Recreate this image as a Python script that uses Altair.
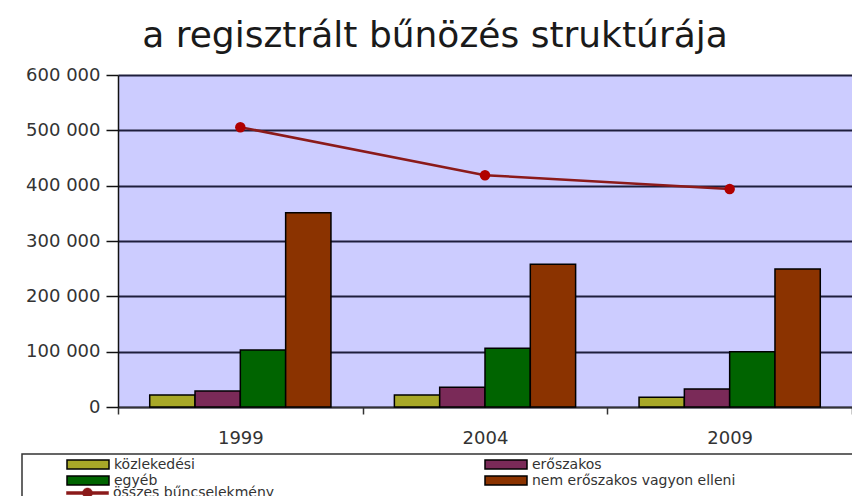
import altair as alt
import pandas as pd

years = ["1999", "2004", "2009"]
series = ["közlekedési", "erőszakos", "egyéb", "nem erőszakos vagyon elleni"]
kozlekedesi = [21700, 21700, 17500]
eroszakos = [29000, 35600, 32500]
egyeb = [103000, 106000, 100000]
vagyon = [351000, 258000, 249500]
line_name = "összes bűncselekmény"
osszes = [505700, 418900, 394000]
bar_colors = ["#A8A828", "#7A2A58", "#006400", "#8B3300"]
line_color = "#8B1A1A"
point_color = "#B00000"
y_ticks = [0, 100000, 200000, 300000, 400000, 500000, 600000]
# legend fills column by column: reorder so rows read as in the reference
legend_order = [series[0], series[2], series[1], series[3]]
legend_colors = [bar_colors[0], bar_colors[2], bar_colors[1], bar_colors[3]]

rows = []
for vals, name in zip([kozlekedesi, eroszakos, egyeb, vagyon], series):
    for yr, v in zip(years, vals):
        rows.append({"year": yr, "series": name, "value": v})
bars_df = pd.DataFrame(rows)
line_df = pd.DataFrame({"year": years, "value": osszes, "series": [line_name] * 3})

W, H = 734, 332
FONT = "DejaVu Sans"
RECT = "M-2.8,-0.6H2.8V0.6H-2.8Z"
LINE = "M-2.8,-0.2H2.8V0.2H-2.8Z M0.67,0A0.67,0.67,0,1,1,-0.67,0A0.67,0.67,0,1,1,0.67,0Z"

x_enc = alt.X("year:N", sort=years, title=None,
              scale=alt.Scale(paddingInner=0, paddingOuter=0),
              axis=alt.Axis(labelAngle=0, tickBand="extent", tickSize=7, tickColor="#333",
                            tickWidth=1.5, domainColor="#333", domainWidth=1.5,
                            labelFont=FONT, labelFontSize=18, labelColor="#333",
                            labelPadding=15, grid=False))
y_enc = alt.Y("value:Q", title=None,
              scale=alt.Scale(domain=[0, 600000], nice=False),
              axis=alt.Axis(values=y_ticks,
                            labelExpr="replace(format(datum.value, ',d'), ',', ' ')",
                            grid=True, gridColor="#1e1e3c", gridWidth=1.8, gridOpacity=1,
                            tickSize=12, tickColor="#111", tickWidth=1.5,
                            domainColor="#111", domainWidth=1.5,
                            labelFont=FONT, labelFontSize=18, labelColor="#333",
                            labelPadding=6))

bars = alt.Chart(bars_df).mark_bar(stroke="black", strokeWidth=1.5).encode(
    x=x_enc,
    xOffset=alt.XOffset("series:N", sort=series,
                        scale=alt.Scale(paddingInner=0, paddingOuter=0.7)),
    y=y_enc,
    fill=alt.Fill("series:N",
                  scale=alt.Scale(domain=legend_order, range=legend_colors),
                  legend=alt.Legend(title=None, orient="none", legendX=-38.5, legendY=381,
                                    columns=2, columnPadding=286, rowPadding=-1.5,
                                    labelFont=FONT, labelFontSize=14, labelColor="#333",
                                    labelLimit=400,
                                    symbolType=RECT, symbolSize=225,
                                    symbolStrokeColor="black", symbolStrokeWidth=1.5,
                                    symbolOpacity=1, labelOffset=17.5)),
)

line = alt.Chart(line_df).mark_line(strokeWidth=2.5).encode(
    x=alt.X("year:N", sort=years),
    y=alt.Y("value:Q"),
    stroke=alt.Stroke("series:N",
                      scale=alt.Scale(domain=[line_name], range=[line_color]),
                      legend=alt.Legend(title=None, orient="none", legendX=-38.5, legendY=410,
                                        labelFont=FONT, labelFontSize=14, labelColor="#333",
                                        labelLimit=400,
                                        symbolType=LINE, symbolSize=225,
                                        symbolFillColor=line_color, symbolStrokeWidth=0.5,
                                        symbolOpacity=1, labelOffset=17.5)),
)

points = alt.Chart(line_df).mark_circle(size=110, color=point_color, opacity=1).encode(
    x=alt.X("year:N", sort=years),
    y=alt.Y("value:Q"),
)

frame = alt.Chart(pd.DataFrame({"k": [0]})).mark_rect(
    fill="transparent", stroke="#333", strokeWidth=1.5
).encode(
    x=alt.value(-96), x2=alt.value(W + 40),
    y=alt.value(379), y2=alt.value(H + 160),
)

chart = alt.layer(bars, line, points, frame).resolve_scale(
    fill="independent", stroke="independent"
).properties(
    width=W, height=H,
    title=alt.Title("a regisztrált bűnözés struktúrája", fontSize=36, font=FONT,
                    fontWeight="normal", color="#1a1a1a", anchor="middle", dx=-50,
                    offset=11),
    autosize=alt.AutoSizeParams(type="none"),
    padding={"left": 110, "top": 67, "right": 0, "bottom": 89},
).configure_view(fill="#CCCCFF", stroke="transparent")

chart.save("out.html", embed_options={"renderer": "svg", "actions": False})
